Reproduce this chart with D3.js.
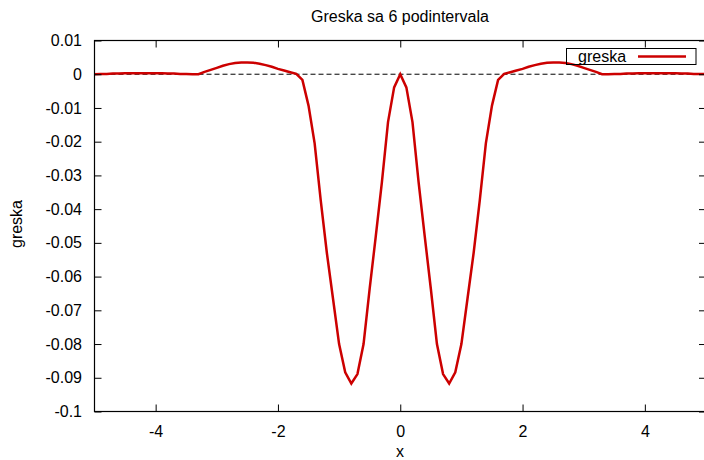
<!DOCTYPE html>
<html>
<head>
<meta charset="utf-8">
<script src="https://cdn.jsdelivr.net/npm/d3@7"></script>
<style>
  html, body { margin: 0; padding: 0; background: #fff; }
  svg { display: block; }
  text { font-family: "Liberation Sans", Arial, sans-serif; font-size: 16px; fill: #000; }
</style>
</head>
<body>
<script>
// Interpolation error sampled on [-5, 5] with step 0.1
const xs = [
  -5.0, -4.9, -4.8, -4.7, -4.6, -4.5, -4.4, -4.3, -4.2, -4.1,
  -4.0, -3.9, -3.8, -3.7, -3.6, -3.5, -3.4, -3.3, -3.2, -3.1,
  -3.0, -2.9, -2.8, -2.7, -2.6, -2.5, -2.4, -2.3, -2.2, -2.1,
  -2.0, -1.9, -1.8, -1.7, -1.6, -1.5, -1.4, -1.3, -1.2, -1.1,
  -1.0, -0.9, -0.8, -0.7, -0.6, -0.5, -0.4, -0.3, -0.2, -0.1,
   0.0,  0.1,  0.2,  0.3,  0.4,  0.5,  0.6,  0.7,  0.8,  0.9,
   1.0,  1.1,  1.2,  1.3,  1.4,  1.5,  1.6,  1.7,  1.8,  1.9,
   2.0,  2.1,  2.2,  2.3,  2.4,  2.5,  2.6,  2.7,  2.8,  2.9,
   3.0,  3.1,  3.2,  3.3,  3.4,  3.5,  3.6,  3.7,  3.8,  3.9,
   4.0,  4.1,  4.2,  4.3,  4.4,  4.5,  4.6,  4.7,  4.8,  4.9,
   5.0
];
const greska = [
   0.0000,  0.0001,  0.0001,  0.0002,  0.0002,  0.0003,  0.0003,  0.0003,  0.0003,  0.0003,
   0.0003,  0.0003,  0.0002,  0.0002,  0.0001,  0.0001,  0.0000,  0.0000,  0.0007,  0.0013,
   0.0019,  0.0025,  0.0030,  0.0033,  0.0035,  0.0035,  0.0034,  0.0031,  0.0027,  0.0022,
   0.0016,  0.0011,  0.0006,  0.0001, -0.0017, -0.0093, -0.0205, -0.0375, -0.0530, -0.0665,
  -0.0800, -0.0884, -0.0917, -0.0889, -0.0800, -0.0636, -0.0480, -0.0320, -0.0142, -0.0039,
   0.0000, -0.0039, -0.0142, -0.0320, -0.0480, -0.0636, -0.0800, -0.0889, -0.0917, -0.0884,
  -0.0800, -0.0665, -0.0530, -0.0375, -0.0205, -0.0093, -0.0017,  0.0001,  0.0006,  0.0011,
   0.0016,  0.0022,  0.0027,  0.0031,  0.0034,  0.0035,  0.0035,  0.0033,  0.0030,  0.0025,
   0.0019,  0.0013,  0.0007,  0.0000,  0.0000,  0.0001,  0.0001,  0.0002,  0.0002,  0.0003,
   0.0003,  0.0003,  0.0003,  0.0003,  0.0003,  0.0003,  0.0002,  0.0002,  0.0001,  0.0001,
   0.0000
];
const xTicks = [-4, -2, 0, 2, 4];
const yTicks = [-0.1, -0.09, -0.08, -0.07, -0.06, -0.05, -0.04, -0.03, -0.02, -0.01, 0, 0.01];
const yTickLabels = ["-0.1", "-0.09", "-0.08", "-0.07", "-0.06", "-0.05", "-0.04", "-0.03", "-0.02", "-0.01", "0", "0.01"];

const W = 704, H = 460;
const plotL = 94.5, plotR = 706, plotT = 40.5, plotB = 411.5;
const tickLen = 7;
const red = "#cc0000";
const FONT = "Liberation Sans, Arial, sans-serif";

const svg = d3.select("body").append("svg").attr("width", W).attr("height", H);
svg.append("rect").attr("width", W).attr("height", H).attr("fill", "#fff");

const x = d3.scaleLinear().domain([-5, 5]).range([plotL, plotR]);
const y = d3.scaleLinear().domain([-0.1, 0.01]).range([plotB, plotT]);

// zero reference line
svg.append("line")
  .attr("x1", x(-5)).attr("x2", x(5))
  .attr("y1", y(0)).attr("y2", y(0))
  .attr("stroke", "#000").attr("stroke-width", 1).attr("stroke-dasharray", "5,3");

// error curve
const pts = xs.map((v, i) => [v, greska[i]]);
svg.append("path")
  .datum(pts)
  .attr("fill", "none")
  .attr("stroke", red)
  .attr("stroke-width", 2.5)
  .attr("stroke-linejoin", "miter")
  .attr("d", d3.line().x(d => x(d[0])).y(d => y(d[1])));

// axes: ticks point inward, mirrored on opposite sides
const fmtY = d => yTickLabels[yTicks.indexOf(d)];
const fmtX = d => String(d);
const axB = svg.append("g").attr("transform", `translate(0,${plotB})`)
  .call(d3.axisBottom(x).tickValues(xTicks).tickSizeInner(-tickLen).tickSizeOuter(0).tickPadding(14).tickFormat(fmtX));
const axT = svg.append("g").attr("transform", `translate(0,${plotT})`)
  .call(d3.axisTop(x).tickValues(xTicks).tickSizeInner(-tickLen).tickSizeOuter(0).tickFormat(""));
const axL = svg.append("g").attr("transform", `translate(${plotL},0)`)
  .call(d3.axisLeft(y).tickValues(yTicks).tickSizeInner(-tickLen).tickSizeOuter(0).tickPadding(12.5).tickFormat(fmtY));
const axR = svg.append("g").attr("transform", `translate(${plotR},0)`)
  .call(d3.axisRight(y).tickValues(yTicks).tickSizeInner(-tickLen).tickSizeOuter(0).tickFormat(""));

[axB, axT, axL, axR].forEach(g => {
  g.select(".domain").remove();
  g.selectAll("line").attr("stroke", "#000").attr("stroke-width", 1);
  g.selectAll("text").attr("font-family", FONT).attr("font-size", 16).attr("fill", "#000");
});

// plot border
svg.append("rect")
  .attr("x", plotL).attr("y", plotT)
  .attr("width", plotR - plotL).attr("height", plotB - plotT)
  .attr("fill", "none").attr("stroke", "#000").attr("stroke-width", 1.2);

// title and axis labels
svg.append("text").attr("x", 400).attr("y", 21.5).attr("text-anchor", "middle").text("Greska sa 6 podintervala");
svg.append("text").attr("x", 400).attr("y", 457).attr("text-anchor", "middle").text("x");
svg.append("text").attr("transform", "translate(21.5,224) rotate(-90)").attr("text-anchor", "middle").text("greska");

// legend
const key = svg.append("g");
key.append("rect").attr("x", 566.5).attr("y", 48.5).attr("width", 129.5).attr("height", 16)
  .attr("fill", "none").attr("stroke", "#000").attr("stroke-width", 1);
key.append("text").attr("x", 578).attr("y", 62).text("greska");
key.append("line").attr("x1", 638).attr("x2", 686).attr("y1", 56.5).attr("y2", 56.5)
  .attr("stroke", red).attr("stroke-width", 2.5);
</script>
</body>
</html>
